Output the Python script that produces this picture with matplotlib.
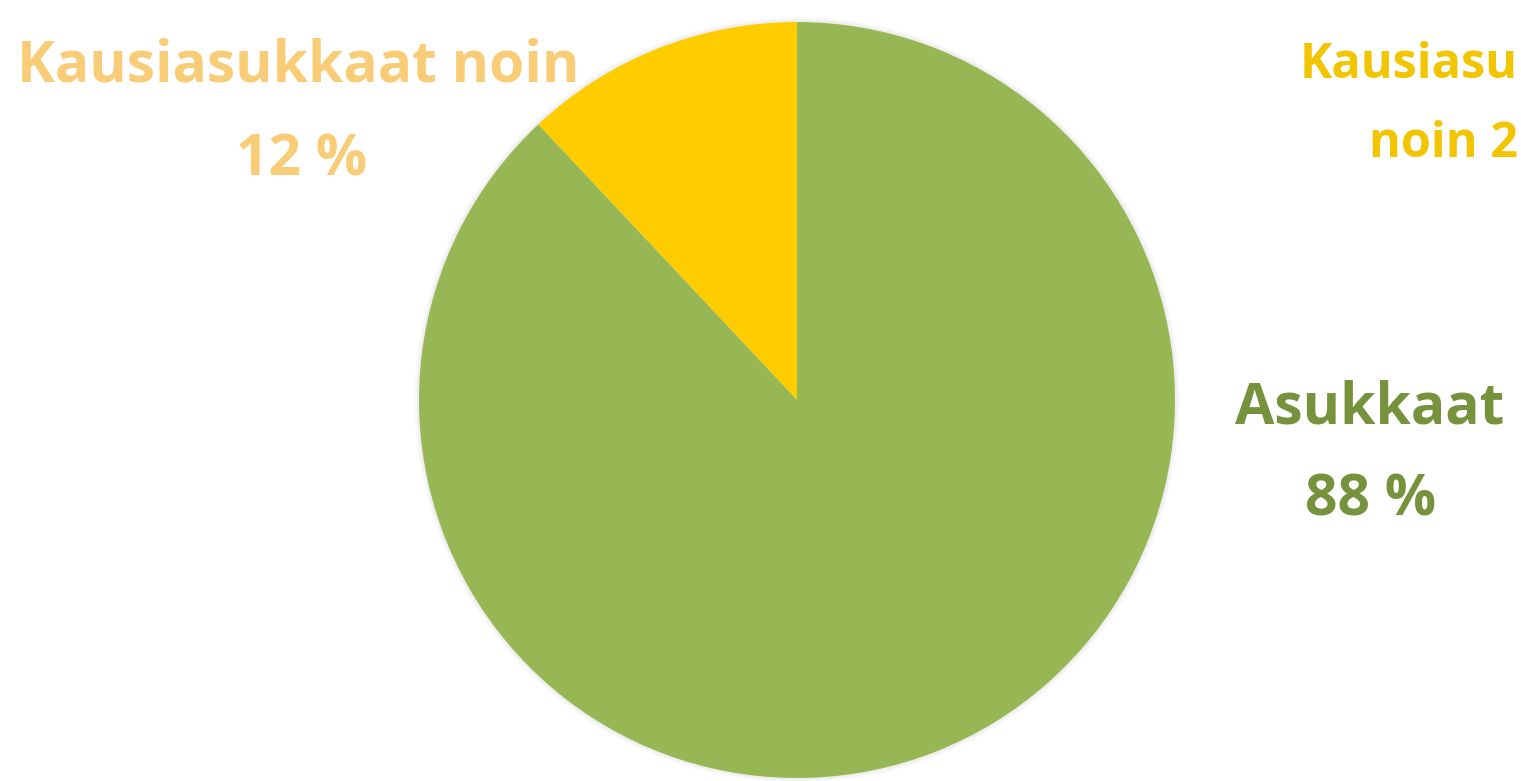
import matplotlib
matplotlib.use("Agg")
import matplotlib.pyplot as plt

# Data
categories = ["Kausiasukkaat noin", "Asukkaat"]
values = [12, 88]
value_labels = ["12 %", "88 %"]
colors = ["#FFCC00", "#96B754"]
label_colors = ["#F9CD78", "#76923C"]
side_title = ["Kausiasu", "noin 2"]

W, H = 1521, 781
fig = plt.figure(figsize=(W / 100, H / 100), dpi=100)
fig.patch.set_facecolor("white")

cx, cy, r = 797, 400, 378
s = 1.02
ax = fig.add_axes([(cx - r * s) / W, (H - cy - r * s) / H, 2 * r * s / W, 2 * r * s / H])
# soft shadow ring
for k, a in [(1.012, 0.05), (1.006, 0.08)]:
    ax.add_patch(plt.Circle((0, 0), k, color="#888888", alpha=a, lw=0))
ax.pie(values, colors=colors, startangle=90, counterclock=True,
       wedgeprops=dict(linewidth=0))
ax.set_aspect("equal")
ax.set_xlim(-s, s)
ax.set_ylim(-s, s)
ax.axis("off")

font = dict(family=["Open Sans", "DejaVu Sans"], weight="bold")
fs = 41

def put(x, y, s, color, ha="center", size=fs):
    return fig.text(x / W, 1 - y / H, s, color=color, fontsize=size, ha=ha,
                    va="baseline", **font)

# Left label (yellow slice)
put(298, 82, categories[0], label_colors[0])
put(302, 175, value_labels[0], label_colors[0])
# Right label (green slice)
put(1370, 423, categories[1], label_colors[1])
put(1371, 515, value_labels[1], label_colors[1])
# Cut-off title of neighbouring chart (kept inside the figure)
put(1518, 78, side_title[0], "#F2C500", ha="right", size=35)
put(1518, 157, side_title[1], "#F2C500", ha="right", size=35)

fig.savefig("out.png", dpi=100, facecolor="white")
